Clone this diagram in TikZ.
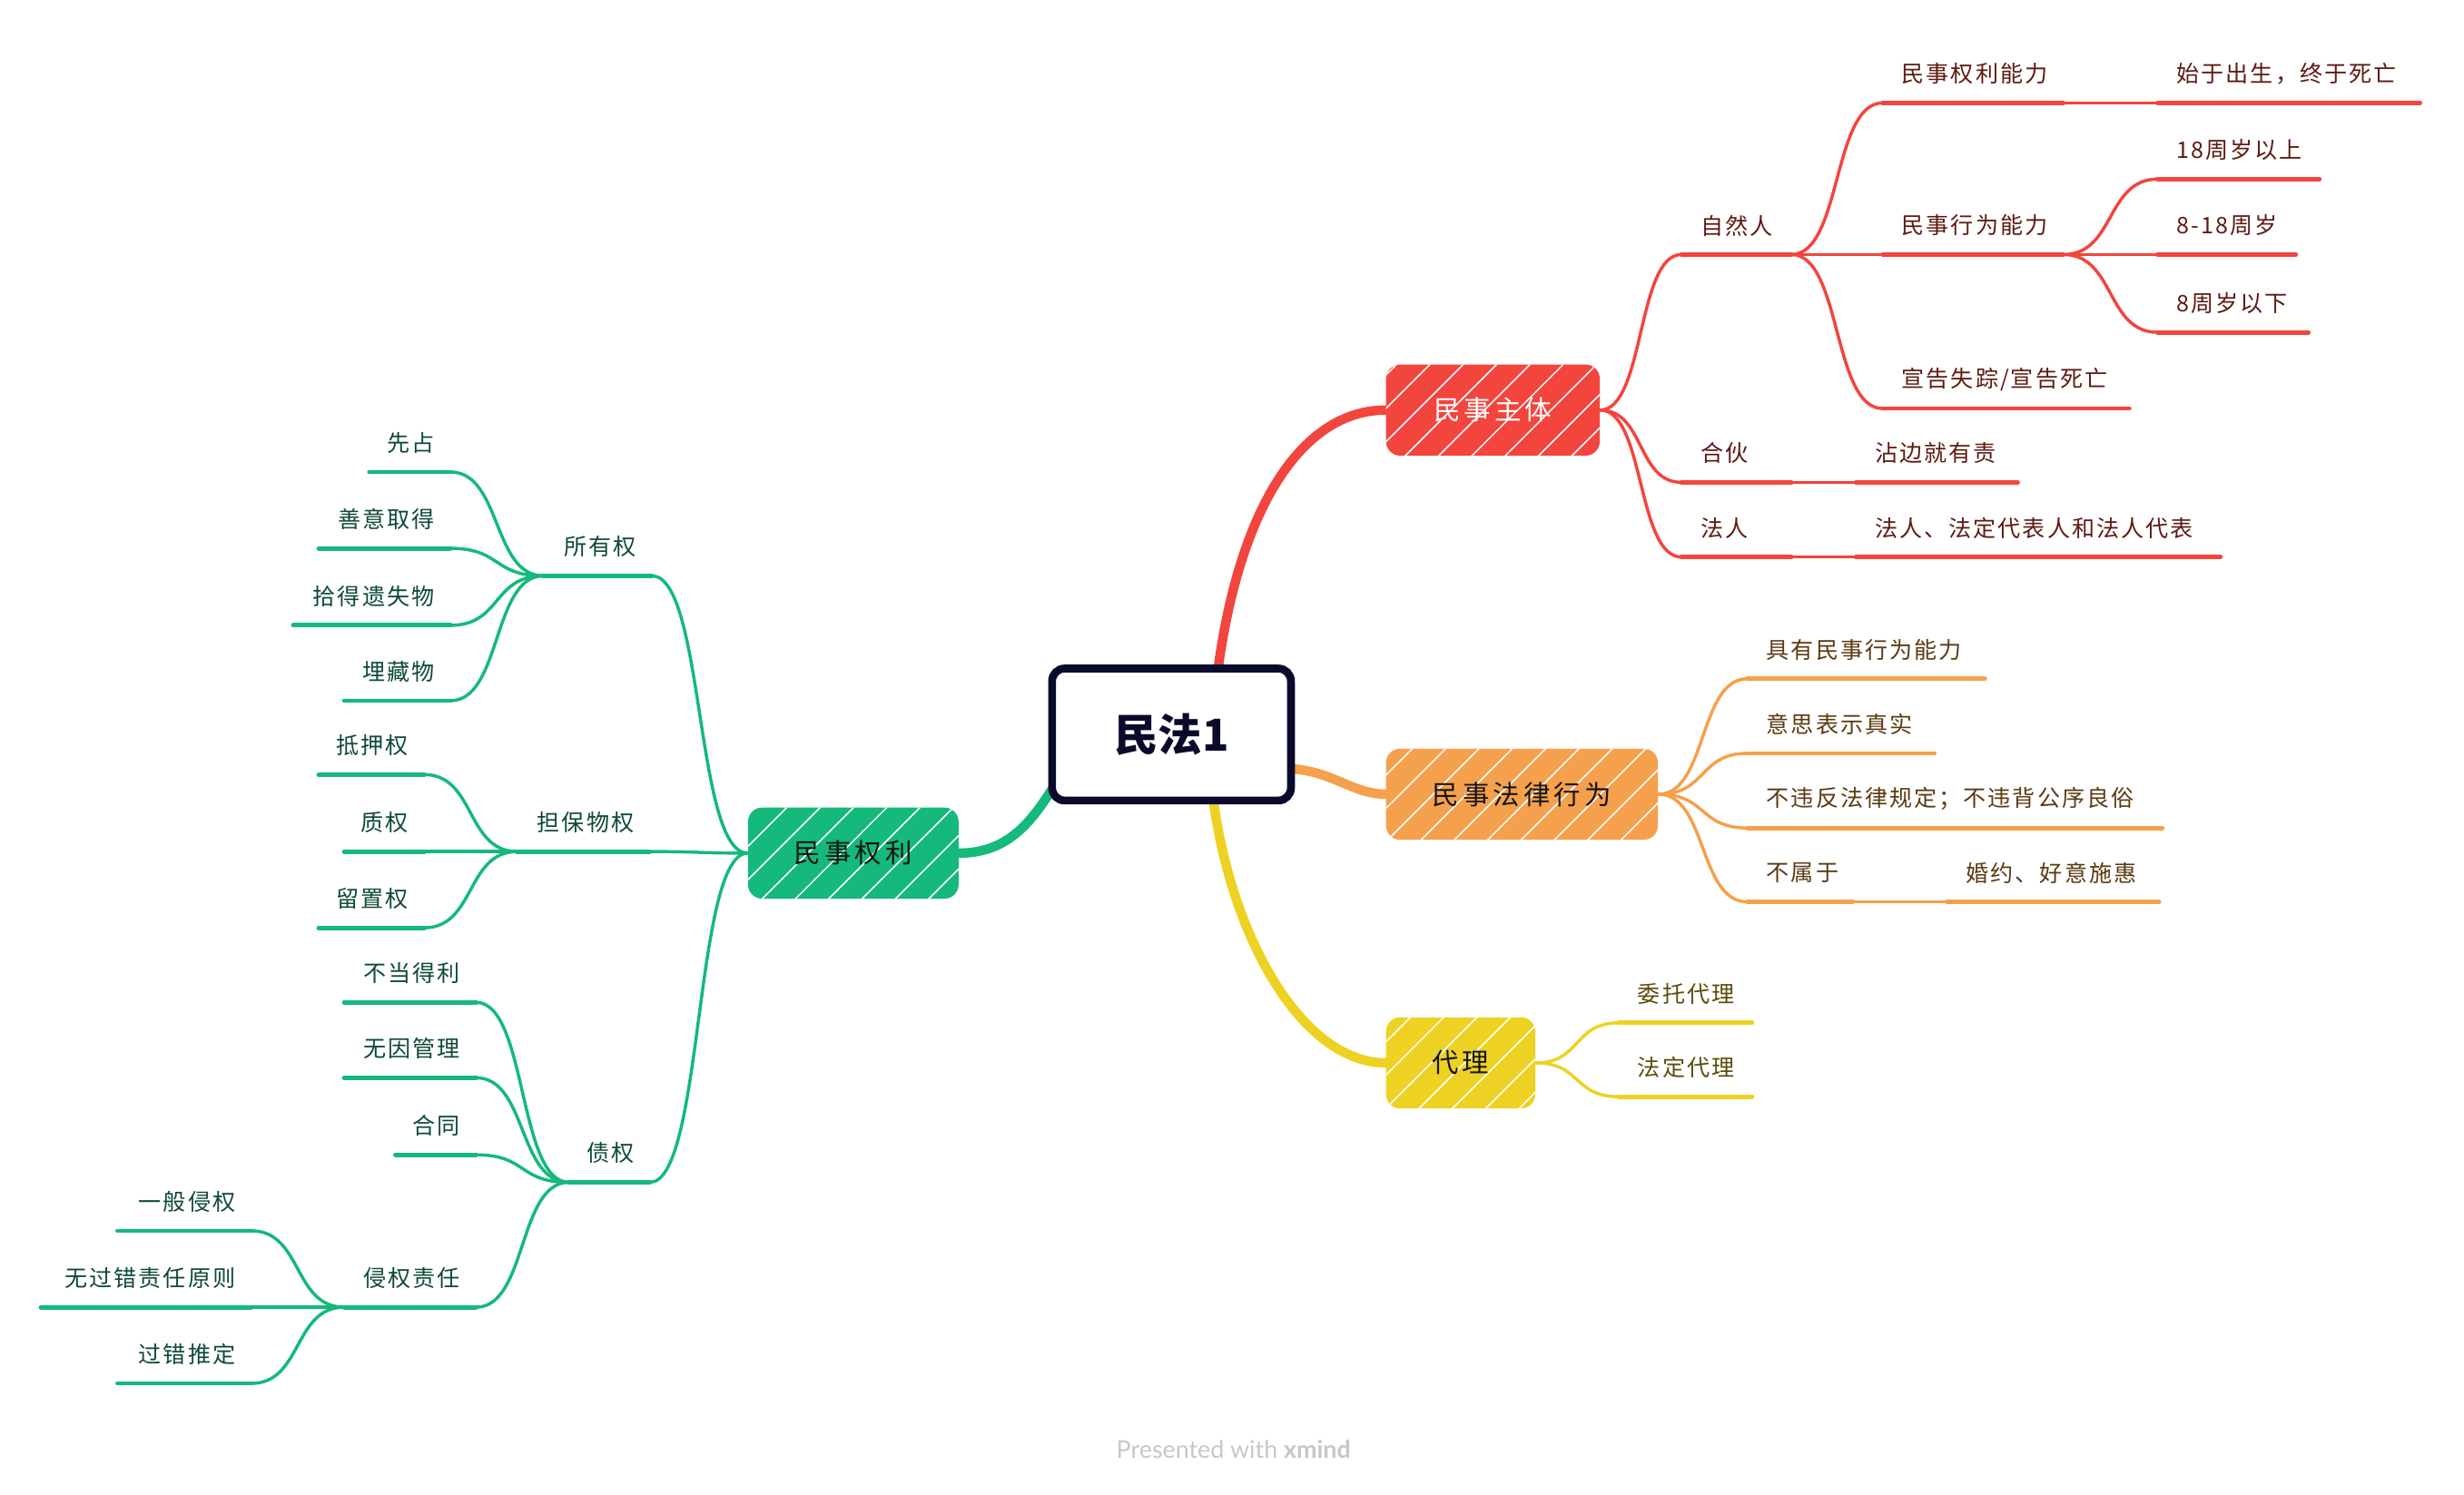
\documentclass[tikz,border=0pt]{standalone}
\usepackage{fontspec}
\setmainfont{Noto Sans CJK SC}
\newfontfamily\cjk[LetterSpace=8]{Noto Sans CJK SC}
\newfontfamily\cjkt[LetterSpace=14]{Noto Sans CJK SC}
\newfontfamily\footfont{Lato}
\usetikzlibrary{calc,patterns.meta}
\pgfdeclarelayer{bg}
\pgfsetlayers{bg,main}
\definecolor{cr}{HTML}{F2453D}
\definecolor{co}{HTML}{F5A04C}
\definecolor{cy}{HTML}{EDD223}
\definecolor{cg}{HTML}{14B97B}
\definecolor{cn}{HTML}{0A0A2C}
\definecolor{tr}{HTML}{5E1A12}
\definecolor{to}{HTML}{5C3A12}
\definecolor{ty}{HTML}{5C4C08}
\definecolor{tg}{HTML}{0E4A33}
\definecolor{tk}{HTML}{151515}
\tikzset{
  rul/.style={draw=cr, line width=2.8pt, line cap=round},
  oul/.style={draw=co, line width=2.8pt, line cap=round},
  yul/.style={draw=cy, line width=2.8pt, line cap=round},
  gul/.style={draw=cg, line width=2.8pt, line cap=round},
  rln/.style={draw=cr, line width=2pt},
  oln/.style={draw=co, line width=2pt},
  yln/.style={draw=cy, line width=2pt},
  gln/.style={draw=cg, line width=2pt},
  basetxt/.style={font=\cjk\fontsize{14.5}{16}\selectfont, inner sep=0pt},
  rtxt/.style={basetxt, text=tr},
  otxt/.style={basetxt, text=to},
  ytxt/.style={basetxt, text=ty},
  gtxt/.style={basetxt, text=tg},
  topic/.style={rounded corners=9pt, inner sep=0pt, minimum height=58pt,
    font=\cjkt\fontsize{17}{20}\selectfont,
    postaction={pattern={Lines[angle=45,distance=15pt,line width=0.9pt]}, pattern color=white}},
  trunk/.style={line width=6pt, line cap=round},
}
\newcommand\ritem[6]{%
  \coordinate (#2a) at (#3,#5);
  \coordinate (#2b) at (#4,#5);
  \draw[#1ul] (#2a) -- (#2b);
  \node[#1txt, anchor=west] (#2) at ($(#2a)+(12,-18.5)$) {#6};}
\newcommand\litem[6]{%
  \coordinate (#2l) at (#3,#5);
  \coordinate (#2r) at (#4,#5);
  \draw[#1ul] (#2l) -- (#2r);
  \node[#1txt, anchor=east] (#2) at ($(#2r)+(-10,-18.5)$) {#6};}
\newcommand\mmlink[3]{%
  \draw[#1] (#2) .. controls ($(#2)!0.55!(#2 -| #3)$) and ($(#3)!0.55!(#3 -| #2)$) .. (#3);}
\begin{document}
\begin{tikzpicture}[x=1pt,y=-1pt]
\useasboundingbox (0,0) rectangle (1568,951);

% central
\node[draw=cn, line width=5pt, rounded corners=8pt, minimum width=152pt, minimum height=84pt,
  fill=white, text=cn, font=\bfseries\fontsize{28}{30}\selectfont] (c) at (745.5,467.5) {民法1};

% topics
\node[topic, fill=cr, text=white, minimum width=136pt] (zt) at (950,261) {民事主体};
\node[topic, fill=co, text=tk, minimum width=173pt] (flxw) at (968.5,505.5) {民事法律行为};
\node[topic, fill=cy, text=tk, minimum width=95pt] (dl) at (929.5,676.5) {代理};
\node[topic, fill=cg, text=tk, minimum width=134pt] (ql) at (543,543) {民事权利};

\begin{pgfonlayer}{bg}
\fill[white] (0,0) rectangle (1568,951);
\draw[trunk, cr] ($(c.north)+(30,0)$) .. controls (790,320) and (830,261) .. (zt.west);
\draw[trunk, co] ($(c.east)+(0,22)$) .. controls (850,492) and (860,505) .. (flxw.west);
\draw[trunk, cy] ($(c.south)+(27,0)$) .. controls (785,600) and (830,676.5) .. (dl.west);
\draw[trunk, cg] ($(c.south west)+(2,-9)$) .. controls (655,525) and (640,543) .. (ql.east);
\end{pgfonlayer}

% red subtree
\ritem{r}{ziran}{1070}{1140}{162}{自然人}
\ritem{r}{hehuo}{1070}{1140}{307}{合伙}
\ritem{r}{faren}{1070}{1140}{354.5}{法人}
\ritem{r}{zhan}{1181}{1284}{307}{沾边就有责}
\ritem{r}{fdd}{1181}{1413}{354.5}{法人、法定代表人和法人代表}
\ritem{r}{qlnl}{1198}{1313}{65.5}{民事权利能力}
\ritem{r}{xwnl}{1198}{1313}{162}{民事行为能力}
\ritem{r}{xgsz}{1198}{1355}{260}{宣告失踪/宣告死亡}
\ritem{r}{shiyu}{1373}{1540}{65.5}{始于出生，终于死亡}
\ritem{r}{sa}{1373}{1476}{114}{18周岁以上}
\ritem{r}{sb}{1373}{1461}{162}{8-18周岁}
\ritem{r}{sc}{1373}{1469}{211.5}{8周岁以下}
\mmlink{rln}{zt.east}{zirana}
\mmlink{rln}{zt.east}{hehuoa}
\mmlink{rln}{zt.east}{farena}
\mmlink{rln}{ziranb}{qlnla}
\mmlink{rln}{ziranb}{xwnla}
\mmlink{rln}{ziranb}{xgsza}
\mmlink{rln}{xwnlb}{saa}
\mmlink{rln}{xwnlb}{sba}
\mmlink{rln}{xwnlb}{sca}
\draw[rln] (qlnlb) -- (shiyua);
\draw[rln] (hehuob) -- (zhana);
\draw[rln] (farenb) -- (fdda);

% orange subtree
\ritem{o}{jy}{1112}{1263}{432}{具有民事行为能力}
\ritem{o}{ys}{1112}{1231}{479.5}{意思表示真实}
\ritem{o}{bw}{1112}{1376}{527}{不违反法律规定；不违背公序良俗}
\ritem{o}{bs}{1112}{1179}{574}{不属于}
\ritem{o}{hy}{1239}{1374}{574}{婚约、好意施惠}
\mmlink{oln}{flxw.east}{jya}
\mmlink{oln}{flxw.east}{ysa}
\mmlink{oln}{flxw.east}{bwa}
\mmlink{oln}{flxw.east}{bsa}
\draw[oln] (bsb) -- (hya);

% yellow subtree
\ritem{y}{wt}{1030}{1115}{651}{委托代理}
\ritem{y}{fd}{1030}{1115}{698}{法定代理}
\mmlink{yln}{dl.east}{wta}
\mmlink{yln}{dl.east}{fda}

% green subtree
\litem{g}{syq}{345.8}{414.8}{366.5}{所有权}
\litem{g}{dbwq}{329}{413.6}{542}{担保物权}
\litem{g}{zq}{362}{413.6}{752.5}{债权}
\litem{g}{xz}{235}{286.6}{300.4}{先占}
\litem{g}{syqd}{202.8}{286.6}{349}{善意取得}
\litem{g}{sdys}{186.6}{286.6}{398}{拾得遗失物}
\litem{g}{mcw}{219}{286.6}{446}{埋藏物}
\litem{g}{dyq}{202.8}{270}{493}{抵押权}
\litem{g}{zhiq}{219}{270}{542}{质权}
\litem{g}{lzq}{202.8}{270}{590.5}{留置权}
\litem{g}{bdly}{219}{303}{638}{不当得利}
\litem{g}{wygl}{219}{303}{686}{无因管理}
\litem{g}{ht}{251.6}{303}{735}{合同}
\litem{g}{qqzr}{219}{303}{832}{侵权责任}
\litem{g}{ybqq}{74.8}{160}{783.4}{一般侵权}
\litem{g}{wgc}{26}{160}{832}{无过错责任原则}
\litem{g}{gctd}{74.8}{160}{880.5}{过错推定}
\mmlink{gln}{ql.west}{syqr}
\mmlink{gln}{ql.west}{dbwqr}
\mmlink{gln}{ql.west}{zqr}
\mmlink{gln}{syql}{xzr}
\mmlink{gln}{syql}{syqdr}
\mmlink{gln}{syql}{sdysr}
\mmlink{gln}{syql}{mcwr}
\mmlink{gln}{dbwql}{dyqr}
\mmlink{gln}{dbwql}{zhiqr}
\mmlink{gln}{dbwql}{lzqr}
\mmlink{gln}{zql}{bdlyr}
\mmlink{gln}{zql}{wyglr}
\mmlink{gln}{zql}{htr}
\mmlink{gln}{zql}{qqzrr}
\mmlink{gln}{qqzrl}{ybqqr}
\mmlink{gln}{qqzrl}{wgcr}
\mmlink{gln}{qqzrl}{gctdr}

% footer
\node[text=black!22, font=\footfont\fontsize{15.5}{17}\selectfont, inner sep=0pt] (foot) at (785,922.5) {Presented with \textbf{xmind}};
\end{tikzpicture}
\end{document}
